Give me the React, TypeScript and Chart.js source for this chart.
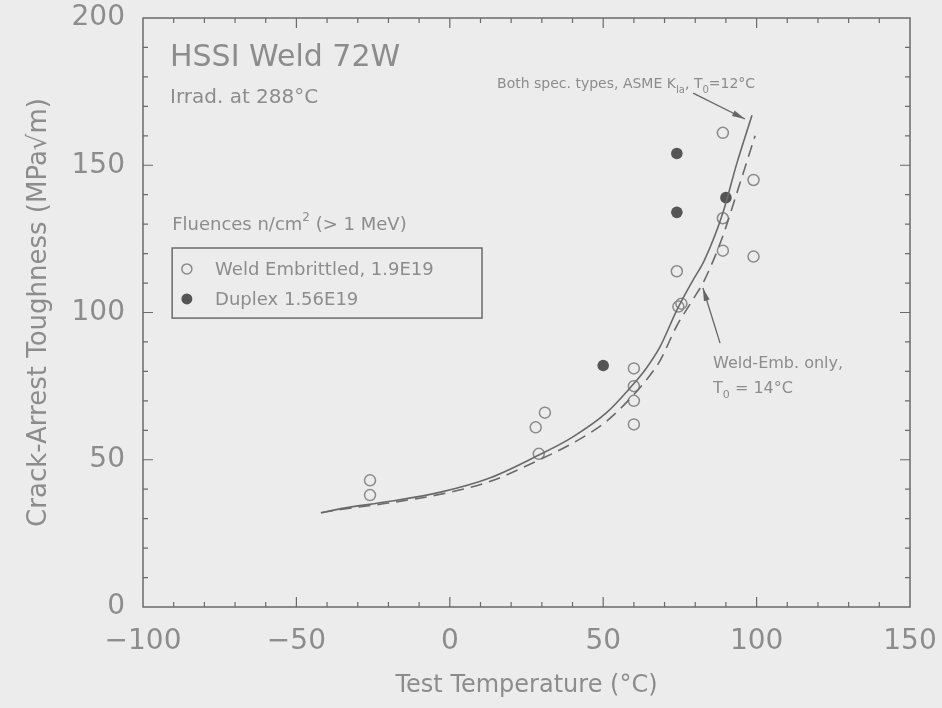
import React, { useEffect, useRef } from "react";
import { Chart, registerables } from "chart.js";

Chart.register(...registerables);

// ---------- data ----------
const weldEmbTemp = [-26, -26, 28, 31, 29, 60, 60, 60, 60, 74, 74.5, 75.5, 89, 89, 89, 99, 99];
const weldEmbK = [43, 38, 61, 66, 52, 81, 75, 70, 62, 114, 102, 103, 161, 132, 121, 145, 119];

const duplexTemp = [50, 74, 74, 90];
const duplexK = [82, 154, 134, 139];

// ASME K_Ia curve, both specimen types, T0 = 12 C (solid)
const bothCurveTemp = [-42, -35, -20, -3, 13, 29, 40, 51, 59, 64, 68.5, 74, 79, 83, 89, 93.6, 98.5];
const bothCurveK = [32, 33.5, 35.8, 39, 43.8, 51.6, 57.7, 65.9, 74.7, 81, 88.3, 100.8, 110.5, 117.8, 133.8, 150.8, 167];

// Weld-Emb. only, T0 = 14 C (dashed)
const weldCurveTemp = [-42, -35, -20, -3, 13, 29, 40, 51, 59, 64, 68.5, 74, 79, 83, 89, 94, 99.5];
const weldCurveK = [32, 33.2, 35.3, 38.3, 42.6, 49.9, 55.6, 63, 71, 77, 83.6, 95.5, 104, 111, 126, 142, 160];

const xTickValues = [-100, -50, 0, 50, 100, 150];
const yTickValues = [0, 50, 100, 150, 200];

const xTitle = "Test Temperature (°C)";
const yTitle = "Crack-Arrest Toughness (MPa√m)";
const headTitle = "HSSI Weld 72W";
const headSub = "Irrad. at 288°C";
const legendLabels = ["Weld Embrittled, 1.9E19", "Duplex 1.56E19"];

const FONT = '"DejaVu Sans", "Liberation Sans", sans-serif';
const TEXT = "#8c8c8c";
const AXIS = "#6a6a6a";
const BG = "#ececec";

type Part = { t: string; sub?: boolean; sup?: boolean };

function drawRich(ctx: CanvasRenderingContext2D, parts: Part[], x: number, y: number, size: number) {
  let cx = x;
  for (const p of parts) {
    const s = p.sub || p.sup ? Math.round(size * 0.68) : size;
    ctx.font = `${s}px ${FONT}`;
    const dy = p.sub ? size * 0.35 : p.sup ? -size * 0.5 : 0;
    ctx.fillText(p.t, cx, y + dy);
    cx += ctx.measureText(p.t).width;
  }
}

function arrow(ctx: CanvasRenderingContext2D, x1: number, y1: number, x2: number, y2: number) {
  ctx.beginPath();
  ctx.moveTo(x1, y1);
  ctx.lineTo(x2, y2);
  ctx.stroke();
  const a = Math.atan2(y2 - y1, x2 - x1);
  const L = 13, W = 3;
  ctx.beginPath();
  ctx.moveTo(x2, y2);
  ctx.lineTo(x2 - L * Math.cos(a) + W * Math.sin(a), y2 - L * Math.sin(a) - W * Math.cos(a));
  ctx.lineTo(x2 - L * Math.cos(a) - W * Math.sin(a), y2 - L * Math.sin(a) + W * Math.cos(a));
  ctx.closePath();
  ctx.fill();
}

const bgPlugin = {
  id: "bg",
  beforeDraw(chart: any) {
    const ctx = chart.ctx;
    ctx.save();
    ctx.fillStyle = BG;
    ctx.fillRect(0, 0, chart.width, chart.height);
    ctx.restore();
  },
};

const framePlugin = {
  id: "frame",
  afterDraw(chart: any) {
    const ctx: CanvasRenderingContext2D = chart.ctx;
    const xs = chart.scales.x;
    const ys = chart.scales.y;
    const { left, right, top, bottom } = chart.chartArea;
    const X = (v: number) => xs.getPixelForValue(v);
    const Y = (v: number) => ys.getPixelForValue(v);
    ctx.save();
    // frame
    ctx.strokeStyle = AXIS;
    ctx.lineWidth = 1.5;
    ctx.strokeRect(left, top, right - left, bottom - top);
    // inward ticks
    ctx.lineWidth = 1.2;
    ctx.beginPath();
    for (let v = -90; v < 150; v += 10) {
      const len = v % 50 === 0 ? 10 : 5;
      const px = X(v);
      ctx.moveTo(px, bottom);
      ctx.lineTo(px, bottom - len);
      ctx.moveTo(px, top);
      ctx.lineTo(px, top + len);
    }
    for (let v = 10; v < 200; v += 10) {
      const len = v % 50 === 0 ? 10 : 5;
      const py = Y(v);
      ctx.moveTo(left, py);
      ctx.lineTo(left + len, py);
      ctx.moveTo(right, py);
      ctx.lineTo(right - len, py);
    }
    ctx.stroke();

    // annotations
    ctx.fillStyle = TEXT;
    ctx.textBaseline = "alphabetic";
    ctx.textAlign = "left";
    ctx.font = `30px ${FONT}`;
    ctx.fillText(headTitle, X(-91.2), Y(183.7));
    ctx.font = `20px ${FONT}`;
    ctx.fillText(headSub, X(-91.2), Y(171.1));

    drawRich(ctx, [{ t: "Fluences n/cm" }, { t: "2", sup: true }, { t: " (> 1 MeV)" }], X(-90.5), Y(128), 18);

    // legend box
    ctx.strokeStyle = AXIS;
    ctx.lineWidth = 1.5;
    const bx1 = X(-90.5), by1 = Y(121.9), bx2 = X(10.5), by2 = Y(98.1);
    ctx.strokeRect(bx1, by1, bx2 - bx1, by2 - by1);
    // legend markers
    ctx.beginPath();
    ctx.arc(X(-85.7), Y(114.8), 5, 0, Math.PI * 2);
    ctx.strokeStyle = "#8a8a8a";
    ctx.lineWidth = 1.5;
    ctx.stroke();
    ctx.beginPath();
    ctx.arc(X(-85.7), Y(104.6), 5.5, 0, Math.PI * 2);
    ctx.fillStyle = "#555555";
    ctx.fill();
    ctx.fillStyle = TEXT;
    ctx.font = `18px ${FONT}`;
    ctx.fillText(legendLabels[0], X(-76.5), Y(112.7));
    ctx.fillText(legendLabels[1], X(-76.5), Y(102.5));

    // curve labels
    drawRich(
      ctx,
      [{ t: "Both spec. types, ASME K" }, { t: "Ia", sub: true }, { t: ", T" }, { t: "0", sub: true }, { t: "=12°C" }],
      X(15.4),
      Y(176.2),
      14
    );
    ctx.font = `16px ${FONT}`;
    ctx.fillText("Weld-Emb. only,", X(85.8), Y(81.2));
    drawRich(ctx, [{ t: "T" }, { t: "0", sub: true }, { t: " = 14°C" }], X(85.8), Y(72.7), 16);

    ctx.strokeStyle = "#666666";
    ctx.fillStyle = "#666666";
    ctx.lineWidth = 1.3;
    arrow(ctx, X(79.3), Y(174.5), X(96.2), Y(165.7));
    arrow(ctx, X(88.1), Y(89.6), X(82.5), Y(108.3));
    ctx.restore();
  },
};

export default function App() {
  const ref = useRef<HTMLCanvasElement | null>(null);

  useEffect(() => {
    document.body.style.margin = "0";
    document.body.style.background = BG;
    const canvas = ref.current;
    if (!canvas) return;
    const toXY = (xs: number[], ys: number[]) => xs.map((x, i) => ({ x, y: ys[i] }));

    const chart = new Chart(canvas, {
      type: "scatter",
      data: {
        datasets: [
          {
            label: "Both spec. types, ASME KIa, T0=12°C",
            data: toXY(bothCurveTemp, bothCurveK),
            showLine: true,
            borderColor: "#6a6a6a",
            borderWidth: 1.6,
            pointRadius: 0,
            cubicInterpolationMode: "monotone",
            fill: false,
          } as any,
          {
            label: "Weld-Emb. only, T0 = 14°C",
            data: toXY(weldCurveTemp, weldCurveK),
            showLine: true,
            borderColor: "#6a6a6a",
            borderWidth: 1.6,
            borderDash: [12, 7],
            pointRadius: 0,
            cubicInterpolationMode: "monotone",
            fill: false,
          } as any,
          {
            label: legendLabels[0],
            data: toXY(weldEmbTemp, weldEmbK),
            pointStyle: "circle",
            pointRadius: 5.5,
            pointBorderWidth: 1.5,
            pointBackgroundColor: "rgba(0,0,0,0)",
            pointBorderColor: "#8a8a8a",
            showLine: false,
          } as any,
          {
            label: legendLabels[1],
            data: toXY(duplexTemp, duplexK),
            pointStyle: "circle",
            pointRadius: 5.8,
            pointBorderWidth: 0,
            pointBackgroundColor: "#555555",
            pointBorderColor: "#555555",
            showLine: false,
          } as any,
        ],
      },
      options: {
        animation: false,
        responsive: false,
        maintainAspectRatio: false,
        layout: { padding: { top: 18, right: 32, bottom: 0, left: 0 } },
        plugins: {
          legend: { display: false },
          tooltip: { enabled: false },
        },
        scales: {
          x: {
            type: "linear",
            min: -100,
            max: 150,
            afterBuildTicks: (s: any) => {
              s.ticks = xTickValues.map((v) => ({ value: v }));
            },
            afterFit: (s: any) => {
              s.height = 101;
              s.paddingLeft = 0;
              s.paddingRight = 0;
              s.paddingTop = 0;
              s.paddingBottom = 0;
            },
            grid: { display: false, drawTicks: false },
            border: { display: false },
            ticks: {
              color: TEXT,
              font: { family: FONT, size: 28 },
              padding: 18,
              maxRotation: 0,
              autoSkip: false,
              callback: (v: any) => (Number(v) < 0 ? "−" + Math.abs(Number(v)) : String(v)),
            },
            title: {
              display: true,
              text: xTitle,
              color: TEXT,
              font: { family: FONT, size: 24 },
              padding: { top: 0, bottom: 8 },
            },
          },
          y: {
            type: "linear",
            min: 0,
            max: 200,
            afterBuildTicks: (s: any) => {
              s.ticks = yTickValues.map((v) => ({ value: v }));
            },
            afterFit: (s: any) => {
              s.width = 143;
              s.paddingLeft = 0;
              s.paddingRight = 0;
              s.paddingTop = 0;
              s.paddingBottom = 0;
            },
            grid: { display: false, drawTicks: false },
            border: { display: false },
            ticks: {
              color: TEXT,
              font: { family: FONT, size: 28 },
              padding: 18,
              autoSkip: false,
            },
            title: {
              display: true,
              text: yTitle,
              color: TEXT,
              font: { family: FONT, size: 26 },
              padding: { top: 24, bottom: 0 },
            },
          },
        },
      },
      plugins: [bgPlugin, framePlugin],
    });
    return () => chart.destroy();
  }, []);

  return (
    <div style={{ width: 942, height: 708, background: BG }}>
      <canvas ref={ref} width={942} height={708} style={{ display: "block" }} />
    </div>
  );
}
